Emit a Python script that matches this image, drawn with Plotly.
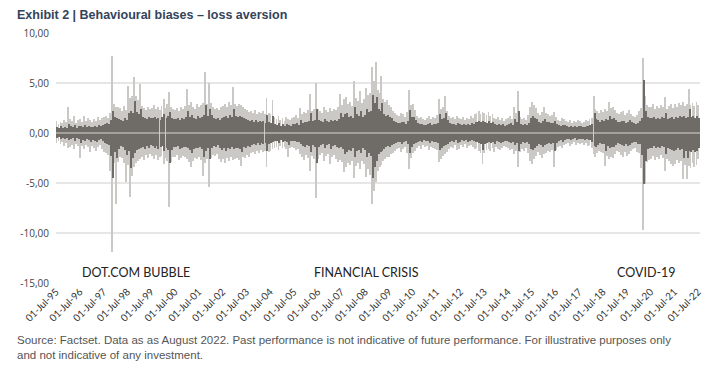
import pandas as pd
import plotly.graph_objects as go

# Monthly envelope of daily returns (%), Jul-1995 .. Jul-2022
hi = [1.2,0.9,1.1,1.0,1.3,1.1,2.6,1.4,1.2,1.7,1.0,1.3,
      1.4,1.1,1.7,1.2,1.5,1.3,1.1,1.4,1.2,1.6,1.3,1.5,
      1.6,1.7,1.5,2.0,7.7,2.9,2.6,2.6,2.5,2.2,2.7,2.3,
      4.7,3.5,3.7,5.6,3.7,3.3,4.9,2.7,2.5,2.3,2.6,2.4,
      2.5,2.8,2.4,2.6,2.3,2.7,3.4,2.5,2.9,4.1,2.6,2.4,
      2.3,2.5,2.2,2.6,2.4,2.7,4.4,2.8,3.1,2.6,2.4,2.9,
      2.6,2.8,3.0,6.15,2.9,5.0,3.0,2.6,2.4,2.5,2.3,2.6,
      2.7,2.9,2.6,3.1,2.8,4.6,2.9,2.7,2.9,2.8,2.6,2.4,
      2.3,2.1,2.2,2.0,2.3,1.9,2.1,2.0,2.2,1.9,3.5,2.0,
      1.9,3.3,1.6,1.4,1.7,1.3,1.5,1.2,1.6,1.4,1.3,1.5,
      1.6,1.8,1.5,2.5,1.9,2.1,2.0,2.3,3.9,2.2,2.4,5.0,
      2.4,2.2,2.0,2.6,2.3,2.1,2.5,2.2,2.4,2.3,2.6,3.9,
      2.8,3.4,3.6,2.9,3.1,2.7,5.25,3.5,3.2,4.25,3.0,3.4,
      4.5,3.8,4.0,6.6,5.2,7.1,4.3,4.0,5.75,3.4,3.1,3.3,
      2.8,2.6,2.2,2.0,1.8,1.7,2.0,1.9,1.6,2.1,4.3,2.8,
      2.9,2.3,1.7,1.5,1.6,1.4,1.3,1.5,1.7,1.4,1.6,1.5,
      1.8,3.4,2.4,2.6,3.75,2.2,1.7,1.5,1.6,1.4,1.7,1.5,
      1.4,1.6,1.3,1.5,1.4,1.7,1.5,1.9,2.0,2.2,1.9,2.1,
      2.0,1.8,2.1,1.7,1.9,1.5,1.4,1.6,1.3,1.5,1.2,1.4,
      1.5,1.7,1.4,2.6,2.0,4.25,1.6,1.4,1.5,1.3,1.8,2.6,
      3.1,2.8,2.5,2.0,1.8,2.1,2.6,2.0,1.9,1.7,1.8,2.1,
      1.6,1.3,1.2,1.5,1.4,1.2,1.1,1.3,1.0,1.2,1.1,1.3,
      1.2,1.0,1.1,1.3,1.2,1.4,1.5,3.75,2.4,2.2,2.0,2.3,
      2.1,2.4,2.2,3.1,2.5,2.6,2.3,2.0,1.9,2.1,2.2,1.8,
      2.0,2.3,1.9,1.7,1.6,1.8,2.2,2.5,7.5,3.75,2.8,2.6,
      2.6,2.9,2.4,2.7,2.5,2.8,2.6,3.6,2.4,2.7,2.9,2.5,
      2.9,2.6,3.0,2.8,3.1,2.7,2.9,4.4,2.8,3.0,2.7,3.1,
      2.8]
lo = [-1.0,-0.8,-1.1,-0.9,-1.3,-1.0,-1.5,-1.4,-1.2,-1.6,-1.1,-1.3,
      -2.5,-1.3,-1.6,-1.2,-1.4,-1.9,-1.3,-1.5,-1.8,-1.4,-1.2,-1.6,
      -1.9,-2.0,-2.2,-3.75,-11.9,-3.0,-7.1,-2.9,-2.4,-2.5,-3.0,-4.9,
      -3.2,-6.4,-4.3,-3.4,-3.0,-2.75,-2.6,-2.4,-2.7,-2.2,-2.5,-2.1,
      -2.3,-2.6,-2.2,-2.7,-2.4,-2.3,-3.1,-2.5,-2.8,-7.4,-2.9,-2.4,
      -2.4,-2.2,-2.7,-2.5,-2.3,-2.4,-2.6,-2.9,-3.4,-2.8,-2.5,-2.6,
      -2.4,-2.7,-4.3,-3.0,-2.6,-5.4,-2.5,-2.2,-2.3,-2.1,-2.6,-2.9,
      -2.6,-3.0,-2.5,-2.8,-2.4,-2.7,-2.6,-2.5,-2.7,-3.25,-2.4,-2.5,
      -2.2,-2.4,-2.0,-1.9,-2.1,-1.8,-2.0,-1.7,-1.9,-1.8,-3.35,-1.9,
      -1.8,-1.6,-1.5,-1.4,-1.7,-1.3,-1.5,-1.4,-1.6,-2.4,-1.5,-1.4,
      -1.5,-1.7,-1.6,-2.1,-2.4,-2.7,-2.2,-2.5,-3.75,-2.3,-2.6,-6.5,
      -2.6,-2.2,-2.0,-2.8,-2.3,-2.1,-3.1,-2.4,-2.2,-2.6,-2.9,-2.7,
      -2.9,-3.9,-3.4,-3.0,-3.2,-2.8,-4.5,-3.3,-3.0,-3.6,-2.8,-3.1,
      -4.4,-3.6,-4.2,-7.1,-5.75,-4.9,-3.8,-3.4,-3.2,-2.8,-2.6,-2.4,
      -2.4,-2.1,-2.0,-1.8,-1.6,-1.5,-1.9,-1.6,-1.4,-2.0,-3.6,-2.5,
      -2.0,-1.8,-1.5,-1.3,-1.6,-1.2,-1.4,-1.3,-1.7,-1.4,-1.5,-1.6,
      -1.7,-2.9,-2.6,-2.3,-2.1,-1.9,-1.6,-1.4,-1.5,-1.2,-1.7,-1.6,
      -1.2,-1.4,-1.1,-1.5,-1.3,-1.2,-1.4,-1.6,-1.5,-1.8,-2.0,-3.1,
      -2.0,-1.7,-1.6,-1.8,-1.5,-1.9,-1.4,-1.6,-1.7,-1.5,-1.3,-1.4,
      -1.5,-1.7,-1.6,-2.1,-1.8,-3.4,-1.9,-1.6,-1.8,-1.5,-2.0,-2.8,
      -3.1,-2.6,-2.3,-1.9,-2.2,-2.5,-2.1,-2.0,-1.8,-1.9,-1.7,-3.4,
      -1.7,-1.4,-1.3,-1.5,-1.2,-1.1,-1.0,-1.3,-1.1,-0.9,-1.2,-1.0,
      -1.1,-1.0,-1.2,-1.0,-1.3,-1.2,-1.5,-2.1,-2.4,-2.0,-1.8,-1.9,
      -2.0,-3.25,-2.3,-2.6,-2.4,-2.5,-2.1,-1.8,-1.9,-2.2,-2.4,-1.9,
      -2.3,-2.1,-1.8,-1.6,-1.5,-1.9,-2.0,-3.5,-9.7,-5.1,-2.9,-2.7,
      -2.6,-2.3,-2.7,-2.4,-2.6,-2.2,-2.5,-3.75,-2.6,-2.8,-3.1,-3.3,
      -3.1,-2.7,-3.0,-2.8,-4.6,-3.2,-4.6,-3.3,-3.5,-3.0,-3.4,-3.2,
      -2.6]
core_hi = [0.6,0.5,0.7,0.5,0.6,0.5,0.9,0.7,0.6,0.8,0.5,0.7,
           0.7,0.6,0.8,0.6,0.7,0.6,0.6,0.7,0.6,0.8,0.7,0.8,
           0.9,1.0,0.9,1.3,2.2,1.6,1.5,1.4,1.3,1.2,1.5,1.3,
           2.0,2.2,2.0,3.2,2.1,1.9,2.4,1.6,1.5,1.4,1.6,1.5,
           1.5,1.6,1.4,1.5,1.3,1.6,1.9,1.5,1.7,2.1,1.5,1.4,
           1.4,1.5,1.3,1.5,1.4,1.6,2.2,1.6,1.8,1.5,1.4,1.7,
           1.5,1.6,1.8,2.8,1.7,2.4,1.8,1.5,1.4,1.5,1.3,1.5,
           1.6,1.7,1.5,1.8,1.6,2.4,1.7,1.6,1.7,1.6,1.5,1.4,
           1.3,1.2,1.3,1.1,1.3,1.1,1.2,1.1,1.2,1.0,1.8,1.1,
           1.0,1.7,0.9,0.8,1.0,0.7,0.9,0.7,0.9,0.8,0.7,0.9,
           0.9,1.0,0.8,1.3,1.0,1.1,1.1,1.2,2.0,1.2,1.3,2.4,
           1.3,1.2,1.1,1.4,1.2,1.1,1.3,1.2,1.3,1.2,1.4,2.0,
           1.6,1.9,2.0,1.6,1.7,1.5,2.6,1.9,1.7,2.2,1.6,1.8,
           2.4,2.1,2.2,3.8,3.0,3.6,2.4,2.2,3.0,1.9,1.7,1.8,
           1.6,1.5,1.2,1.1,1.0,1.0,1.1,1.1,0.9,1.2,2.3,1.6,
           1.6,1.3,1.0,0.9,0.9,0.8,0.8,0.9,1.0,0.8,0.9,0.9,
           1.0,1.9,1.4,1.5,2.0,1.3,1.0,0.9,0.9,0.8,1.0,0.9,
           0.8,0.9,0.8,0.9,0.8,1.0,0.9,1.1,1.1,1.2,1.1,1.2,
           1.1,1.0,1.2,1.0,1.1,0.9,0.8,0.9,0.8,0.9,0.7,0.8,
           0.9,1.0,0.8,1.4,1.1,2.2,0.9,0.8,0.9,0.8,1.0,1.5,
           1.7,1.5,1.4,1.1,1.0,1.2,1.4,1.1,1.1,1.0,1.0,1.2,
           0.9,0.8,0.7,0.8,0.8,0.7,0.6,0.7,0.6,0.7,0.6,0.7,
           0.7,0.6,0.6,0.7,0.7,0.8,0.9,2.0,1.4,1.3,1.1,1.3,
           1.2,1.4,1.3,1.7,1.4,1.5,1.3,1.1,1.1,1.2,1.2,1.0,
           1.1,1.3,1.1,1.0,0.9,1.0,1.2,1.5,5.3,2.2,1.6,1.5,
           1.5,1.6,1.4,1.5,1.4,1.6,1.5,2.0,1.4,1.5,1.6,1.4,
           1.6,1.5,1.7,1.6,1.7,1.5,1.6,2.4,1.6,1.7,1.5,1.7,
           1.5]
core_lo = [-0.5,-0.4,-0.6,-0.5,-0.6,-0.5,-0.7,-0.6,-0.5,-0.8,-0.5,-0.6,
           -1.0,-0.7,-0.8,-0.6,-0.7,-0.9,-0.7,-0.8,-0.9,-0.7,-0.6,-0.8,
           -1.0,-1.1,-1.2,-2.3,-4.5,-1.9,-2.5,-1.6,-1.3,-1.4,-1.7,-2.2,
           -1.8,-3.5,-2.5,-2.0,-1.7,-1.6,-1.5,-1.4,-1.6,-1.3,-1.5,-1.2,
           -1.3,-1.5,-1.3,-1.6,-1.4,-1.3,-1.8,-1.5,-1.7,-3.0,-1.7,-1.4,
           -1.4,-1.3,-1.6,-1.5,-1.4,-1.4,-1.5,-1.7,-2.0,-1.6,-1.5,-1.5,
           -1.4,-1.6,-2.4,-1.8,-1.5,-2.6,-1.5,-1.3,-1.4,-1.2,-1.5,-1.7,
           -1.5,-1.8,-1.5,-1.6,-1.4,-1.6,-1.5,-1.5,-1.6,-1.9,-1.4,-1.5,
           -1.3,-1.4,-1.2,-1.1,-1.2,-1.0,-1.2,-1.0,-1.1,-1.0,-1.8,-1.1,
           -1.0,-0.9,-0.8,-0.8,-1.0,-0.7,-0.9,-0.8,-0.9,-1.2,-0.8,-0.8,
           -0.8,-0.9,-0.9,-1.1,-1.3,-1.4,-1.2,-1.3,-1.9,-1.2,-1.4,-3.0,
           -1.4,-1.2,-1.1,-1.5,-1.2,-1.1,-1.6,-1.3,-1.2,-1.4,-1.5,-1.4,
           -1.6,-2.1,-1.9,-1.7,-1.8,-1.5,-2.4,-1.8,-1.7,-2.0,-1.5,-1.7,
           -2.4,-2.0,-2.3,-4.5,-3.4,-2.8,-2.1,-1.9,-1.8,-1.6,-1.4,-1.3,
           -1.4,-1.2,-1.1,-1.0,-0.9,-0.9,-1.1,-0.9,-0.8,-1.1,-2.0,-1.4,
           -1.1,-1.0,-0.9,-0.8,-0.9,-0.7,-0.8,-0.8,-1.0,-0.8,-0.9,-0.9,
           -1.0,-1.7,-1.5,-1.3,-1.2,-1.1,-0.9,-0.8,-0.9,-0.7,-1.0,-0.9,
           -0.7,-0.8,-0.7,-0.9,-0.8,-0.7,-0.8,-0.9,-0.9,-1.0,-1.1,-1.7,
           -1.1,-1.0,-0.9,-1.0,-0.9,-1.1,-0.8,-0.9,-1.0,-0.9,-0.8,-0.8,
           -0.9,-1.0,-0.9,-1.2,-1.0,-1.8,-1.1,-0.9,-1.0,-0.9,-1.1,-1.6,
           -1.7,-1.5,-1.3,-1.1,-1.2,-1.4,-1.2,-1.1,-1.0,-1.1,-1.0,-1.8,
           -1.0,-0.8,-0.7,-0.9,-0.7,-0.6,-0.6,-0.7,-0.6,-0.5,-0.7,-0.6,
           -0.6,-0.6,-0.7,-0.6,-0.7,-0.7,-0.9,-1.3,-1.4,-1.2,-1.0,-1.1,
           -1.1,-1.8,-1.3,-1.5,-1.4,-1.4,-1.2,-1.0,-1.1,-1.2,-1.3,-1.1,
           -1.3,-1.2,-1.0,-0.9,-0.9,-1.1,-1.1,-2.2,-5.1,-2.8,-1.6,-1.5,
           -1.5,-1.3,-1.5,-1.4,-1.5,-1.3,-1.4,-2.1,-1.5,-1.6,-1.7,-1.8,
           -1.7,-1.5,-1.7,-1.6,-2.5,-1.8,-2.5,-1.8,-1.9,-1.7,-1.9,-1.8,
           -1.5]

start_month = "1995-07-01"
tick_years = list(range(1995, 2023))
tick_labels = ["01-Jul-%02d" % (y % 100) for y in tick_years]
y_ticks = [10, 5, 0, -5, -10, -15]
y_tick_labels = ["10,00", "5,00", "0,00", "-5,00", "-10,00", "-15,00"]
events = ["DOT.COM BUBBLE", "FINANCIAL CRISIS", "COVID-19"]
event_dates = ["1998-11-15", "2008-07-15", "2020-05-01"]

month_starts = pd.date_range(start_month, periods=len(hi), freq="MS")
light_x = month_starts + pd.Timedelta(days=7)
dark_x = month_starts + pd.Timedelta(days=22)
LIGHT = "#cac9c5"
DARK = "#6f6c67"
bw_light = 14.5 * 86400000
bw_dark = 16.5 * 86400000

fig = go.Figure()
for xs, vals, col, bw in [(light_x, hi, LIGHT, bw_light), (light_x, lo, LIGHT, bw_light),
                          (dark_x, core_hi, DARK, bw_dark), (dark_x, core_lo, DARK, bw_dark)]:
    fig.add_trace(go.Bar(x=xs, y=vals, marker=dict(color=col, line=dict(width=0)),
                         width=bw, showlegend=False, hoverinfo="skip"))

for t, d in zip(events, event_dates):
    fig.add_annotation(x=d, y=-13.9, text=t, showarrow=False, xanchor="center", yanchor="middle",
                       font=dict(family="Lato, sans-serif", size=12.5, color="#222222"))

fig.add_shape(type="line", xref="paper", x0=0, x1=1, yref="y", y0=0, y1=0,
              line=dict(color="#d6d6d6", width=1.2), layer="above")

fig.add_annotation(xref="paper", yref="paper", x=0, xshift=-41, y=1.0, yshift=18, xanchor="left", yanchor="middle",
                   text="<b>Exhibit 2 | Behavioural biases – loss aversion</b>", showarrow=False,
                   font=dict(family="Liberation Sans, Arial, sans-serif", size=12.5, color="#34445a"))
fig.add_annotation(xref="paper", yref="paper", x=0, xshift=-41, y=0, yshift=-49, xanchor="left", yanchor="top",
                   align="left", showarrow=False,
                   text="Source: Factset. Data as as August 2022. Past performance is not indicative of future performance. For illustrative purposes only<br>and not indicative of any investment.",
                   font=dict(family="Liberation Sans, Arial, sans-serif", size=11.5, color="#555555"))

# the page body adds an 8px offset, so the figure is sized/placed to compensate
fig.update_layout(
    width=707, height=360, margin=dict(l=40, r=13, t=25, b=85),
    barmode="overlay", bargap=0, plot_bgcolor="white", paper_bgcolor="white",
    xaxis=dict(type="date", range=["1995-07-01", "2022-08-01"],
               tickvals=["%d-07-01" % y for y in tick_years], ticktext=tick_labels,
               tickangle=-45, showgrid=False, zeroline=False, showline=False, ticks="",
               tickfont=dict(family="Lato, sans-serif", size=10, color="#333333")),
    yaxis=dict(range=[-15, 10], tickvals=y_ticks, ticktext=y_tick_labels,
               showgrid=True, gridcolor="#e6e6e6", gridwidth=1.5, zeroline=False,
               ticklabelstandoff=6,
               tickfont=dict(family="Open Sans, sans-serif", size=10, color="#444444")),
)
fig.write_html("out.html")
